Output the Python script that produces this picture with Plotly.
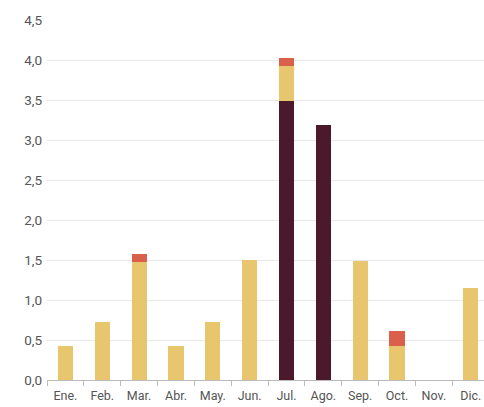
import plotly.graph_objects as go

months = ["Ene.", "Feb.", "Mar.", "Abr.", "May.", "Jun.", "Jul.", "Ago.", "Sep.", "Oct.", "Nov.", "Dic."]
dark_vals = [0, 0, 0, 0, 0, 0, 3.49, 3.19, 0, 0, 0, 0]
yellow_vals = [0.43, 0.72, 1.48, 0.43, 0.72, 1.5, 0.43, 0, 1.49, 0.43, 0, 1.15]
red_vals = [0, 0, 0.09, 0, 0, 0, 0.11, 0, 0, 0.18, 0, 0]
y_ticks = [0, 0.5, 1, 1.5, 2, 2.5, 3, 3.5, 4, 4.5]

fig = go.Figure()
fig.add_bar(x=months, y=dark_vals, marker_color="#4a1a2c", marker_line_width=0)
fig.add_bar(x=months, y=yellow_vals, marker_color="#e8c66e", marker_line_width=0)
fig.add_bar(x=months, y=red_vals, marker_color="#d9604a", marker_line_width=0)

font = dict(family="Roboto, Arial", size=13, color="#555555")
fig.update_layout(
    barmode="stack",
    bargap=0.59,
    width=484, height=407,
    margin=dict(l=47, r=0, t=20, b=27),
    plot_bgcolor="white", paper_bgcolor="white",
    showlegend=False,
    separators=",.",
    font=font,
)
fig.update_yaxes(range=[0, 4.5], tickvals=y_ticks, tickformat=".1f",
                 showgrid=True, gridcolor="#e8e8e8", gridwidth=1,
                 zeroline=False, ticks="", ticklabelstandoff=4,
                 tickfont=dict(size=13.5))
fig.update_xaxes(range=[-0.5, 11.36],
                 showline=True, linecolor="#bbbbbb", linewidth=1,
                 ticks="outside", tickson="boundaries", ticklen=5, tickcolor="#bbbbbb",
                 showgrid=False, tickangle=0, tickfont=dict(size=12.5),
                 ticklabelstandoff=4)
fig.write_html("out.html")
